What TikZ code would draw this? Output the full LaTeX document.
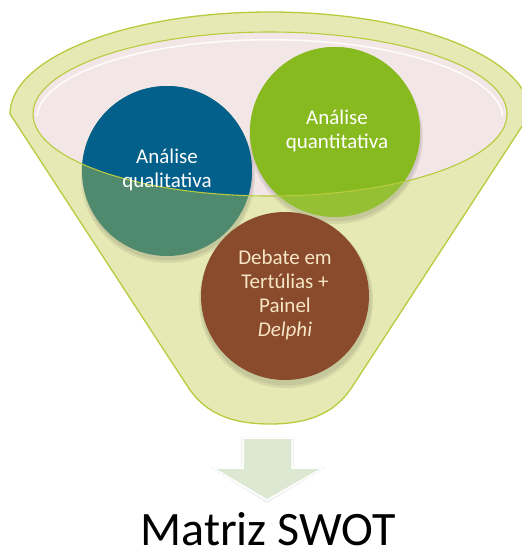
\documentclass[tikz,border=0pt]{standalone}
\usepackage{fontspec}
\setmainfont{Carlito}
\definecolor{funnelfill}{HTML}{E6E9B3}
\definecolor{funneledge}{HTML}{B8CB3E}
\definecolor{innerpink}{HTML}{F3E6E7}
\definecolor{qualblue}{HTML}{02608A}
\definecolor{qualbluet}{HTML}{4F8A6E}
\definecolor{quangreen}{HTML}{87BA1E}
\definecolor{quangreent}{HTML}{95C034}
\definecolor{debbrown}{HTML}{8A4B2C}
\definecolor{debtext}{HTML}{F6E6C6}
\definecolor{arrowfill}{HTML}{DDE8D3}
\tikzset{
  circtext/.style={align=center,inner sep=0pt,font=\fontsize{21}{24}\selectfont},
  shadowc/.style={fill=black,fill opacity=0.07,draw=none},
}
\begin{document}
\begin{tikzpicture}[x=1pt,y=-1pt]
\useasboundingbox (0,0) rectangle (522,557);
\begin{scope}
\clip (0,0) rectangle (522,557);
% funnel body
\path[fill=funnelfill,draw=funneledge,line width=1.3pt]
  (10,114) arc[start angle=180,end angle=360,x radius=260,y radius=102]
  -- (354,384) .. controls (338,410) and (314,424) .. (270,424)
  .. controls (226,424) and (202,410) .. (186,384) -- cycle;
\end{scope}
% inner ellipse
\path[fill=innerpink] (270,114) ellipse[x radius=237,y radius=82];
\draw[white,line width=1.6pt,opacity=0.85] (37,116) arc[start angle=182,end angle=358,x radius=233,y radius=79];
% shadows
\foreach \cx/\cy in {167/171,335/132,285/296}{
  \fill[shadowc] (\cx+1,\cy+5) circle[radius=87];
  \fill[shadowc] (\cx+1,\cy+4) circle[radius=85.5];
}
% circles, tinted where in front of the funnel
\fill[qualbluet] (167,171) circle[radius=85];
\fill[quangreent] (335,132) circle[radius=85];
\begin{scope}
\clip (270,114) ellipse[x radius=237,y radius=82];
\fill[qualblue] (167,171) circle[radius=85];
\fill[quangreen] (335,132) circle[radius=85];
\end{scope}
\draw[funneledge,line width=1.1pt] (270,114) ellipse[x radius=237,y radius=82];
\fill[debbrown] (285,296) circle[radius=84];
% texts
\node[circtext,text=white] (qual) at (167,170) {Análise\\qualitativa};
\node[circtext,text=white] (quan) at (337,131) {Análise\\quantitativa};
\node[circtext,text=debtext] (deb) at (285,295) {Debate em\\Tertúlias +\\Painel\\\textit{Delphi}};
% arrow
\path[fill=black,fill opacity=0.06] (241,437) -- (294,437) -- (294,467) -- (327,467) -- (267,503) -- (209,467) -- (241,467) -- cycle;
\path[fill=arrowfill,draw=white,line width=1.5pt] (243,438) -- (292,438) -- (292,468) -- (323,468) -- (267,500) -- (213,468) -- (243,468) -- cycle;
\node[anchor=base,inner sep=0pt,font=\fontsize{48}{58}\selectfont] (swot) at (268,545) {Matriz SWOT};
\end{tikzpicture}
\end{document}
